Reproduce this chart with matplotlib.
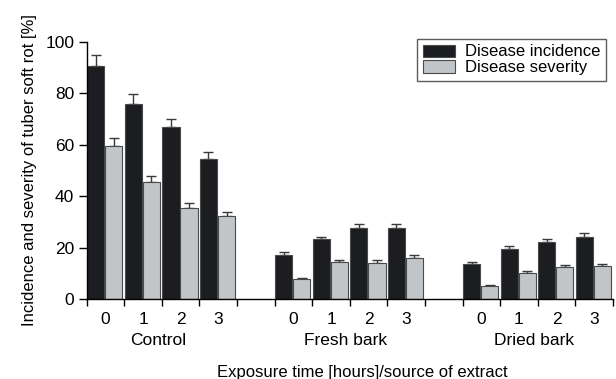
#!/usr/bin/env python3
"""
Tuber soft rot - incidence and severity bar chart
"""
import numpy as np
import matplotlib
matplotlib.use("Agg")
import matplotlib.pyplot as plt

plt.rcParams['font.family'] = ['Liberation Sans', 'DejaVu Sans']

# data
groups = ["Control", "Fresh bark", "Dried bark"]
hours = ["0", "1", "2", "3"]
incidence = [90.4, 75.8, 66.7, 54.6,
             17.2, 23.2, 27.6, 27.7,
             13.6, 19.6, 22.3, 24.1]
incidence_err = [4.3, 3.7, 3.3, 2.7,
                 1.0, 1.0, 1.4, 1.3,
                 0.7, 0.9, 1.0, 1.5]
severity = [59.4, 45.5, 35.4, 32.3,
            7.7, 14.5, 14.1, 16.1,
            5.2, 10.1, 12.6, 12.8]
severity_err = [3.1, 2.4, 1.8, 1.7,
                0.3, 0.8, 0.9, 0.9,
                0.2, 0.8, 0.6, 0.8]

BLACK = '#1c1d21'
GRAY = '#c2c5c7'
EDGE = '#4a4a4a'


def main():
    fig = plt.figure(figsize=(6.16, 3.79), dpi=100)
    ax = fig.add_axes([0.1407, 0.211, 0.8543, 0.679])

    # slot positions: 4 per group, one empty slot between groups
    slots = []
    for g in range(len(groups)):
        for h in range(len(hours)):
            slots.append(g * 5 + h)
    slots = np.array(slots, dtype=float)

    w = 0.46
    ax.bar(slots + 0.01, incidence, width=w, align='edge', color=BLACK,
           edgecolor=EDGE, linewidth=0.8, label='Disease incidence', zorder=2)
    ax.bar(slots + 0.49, severity, width=w, align='edge', color=GRAY,
           edgecolor=EDGE, linewidth=0.8, label='Disease severity', zorder=2)

    ax.errorbar(slots + 0.01 + w / 2, incidence,
                yerr=[np.zeros(len(incidence)), incidence_err],
                fmt='none', ecolor='#3a3a3a', elinewidth=1, capsize=3.6,
                capthick=1, zorder=1)
    ax.errorbar(slots + 0.49 + w / 2, severity,
                yerr=[np.zeros(len(severity)), severity_err],
                fmt='none', ecolor='#3a3a3a', elinewidth=1, capsize=3.6,
                capthick=1, zorder=1)

    ax.set_xlim(0, 14)
    ax.set_ylim(0, 100)
    ax.set_yticks(np.arange(0, 101, 20))

    # major ticks on slot boundaries, labels at slot centres
    ax.set_xticks(np.arange(0, 15))
    ax.set_xticklabels([])
    ax.set_xticks(slots + 0.5, minor=True)
    ax.set_xticklabels(hours * len(groups), minor=True)
    ax.tick_params(axis='x', which='minor', length=0, pad=9, labelsize=12.5)
    ax.tick_params(axis='x', which='major', length=5, direction='out',
                   width=1)
    ax.tick_params(axis='y', length=6, width=1, labelsize=12.5, pad=3)

    for sp in ['top', 'right']:
        ax.spines[sp].set_visible(False)
    ax.spines['left'].set_linewidth(1)
    ax.spines['bottom'].set_linewidth(1)

    for g, name in enumerate(groups):
        ax.text(g * 5 + 2 - 0.1, -0.162, name, transform=ax.get_xaxis_transform(),
                ha='center', va='center', fontsize=12.5)

    fig.text(362 / 616, 1 - 373 / 379, 'Exposure time [hours]/source of extract',
             ha='center', va='center', fontsize=12)
    ax.set_ylabel('Incidence and severity of tuber soft rot [%]', fontsize=12,
                  labelpad=6)

    leg = ax.legend(loc='upper right', bbox_to_anchor=(0.987, 1.012),
                    fancybox=False, frameon=True, edgecolor='#333333',
                    fontsize=12, handlelength=1.9, handleheight=0.75,
                    labelspacing=0.05, borderpad=0.35, handletextpad=0.6,
                    borderaxespad=0)
    leg.get_frame().set_linewidth(1)

    fig.savefig('out.png', dpi=100)
    plt.close(fig)


if __name__ == "__main__":
    main()
